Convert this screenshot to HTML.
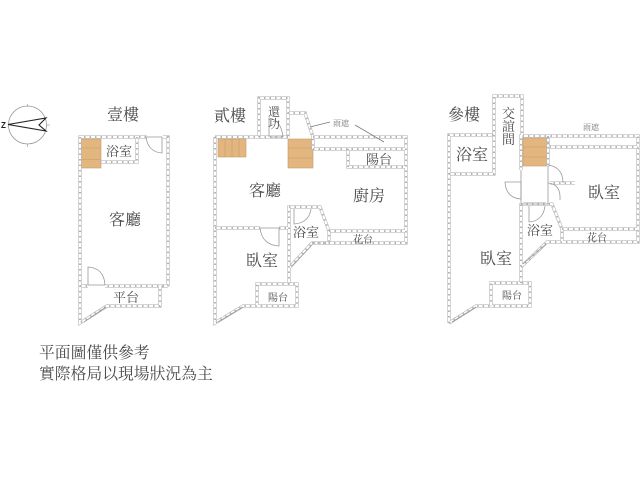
<!DOCTYPE html>
<html><head><meta charset="utf-8">
<style>
html,body{margin:0;padding:0;background:#fff}
svg{display:block}
text{font-family:"Liberation Serif","Noto Serif CJK SC",serif;fill:#4a4a4a}
</style></head><body>
<svg width="640" height="480" viewBox="0 0 640 480" xmlns="http://www.w3.org/2000/svg">
<defs>
<g id="w" fill="none" stroke-linejoin="miter">
<path d="M168 137H80V323L107 306H160V287L168 285V137Z"/>
<path d="M80 286H168M137 137V162H100"/>
<path d="M215 137H288M215 137V323L243 306H297V284H257V306M289 284V207H320L329 231V243H312L289 268"/>
<path d="M215 228H260M279 228H289"/>
<path d="M312 243H406V137H313M313 149H406M348 149V167H405M329 231H405"/>
<path d="M259 137V98H288V137M288 113H305L313 137V149"/>
<path d="M449 323V135H494V96H522V135M449 174H494V135"/>
<path d="M449 323L476 306H530V283H491V306M521 283V136H548"/>
<path d="M521 204H552L562 229V242M521 267L547 242H638V136H548V147H638M562 229H638M548 136V166M548 183H575"/>
</g>
</defs>
<!-- stairs -->
<g fill="#e3b67f" stroke="#c29a68" stroke-width=".6">
<rect x="81" y="139" width="20" height="29"/>
<path d="M81 148H101M81 159.500H101" fill="none"/>
<rect x="218" y="139" width="28" height="18"/>
<path d="M225 139V157M232 139V157M239 139V157" fill="none"/>
<rect x="288" y="139" width="25" height="29"/>
<path d="M288 148H313M288 158H313" fill="none"/>
<rect x="523" y="138" width="24" height="28"/>
<path d="M523 147H547M523 157H547" fill="none"/>
</g>
<!-- walls -->
<use href="#w" stroke="#a8a8a8" stroke-width="3.200"/>
<use href="#w" stroke="#fff" stroke-width="2.200"/>
<use href="#w" stroke="#b5b5b5" stroke-width="2" stroke-dasharray="1.500 4"/>
<!-- door openings -->
<g stroke="#fff" stroke-width="4" fill="none">
<path d="M147 137H163M88 286H105M260 228H279M521 170V203M548 170V203"/>
</g>
<g fill="none" stroke="#999" stroke-width=".8">
<path d="M146 137H162V153Q148 152 146 137"/>
<path d="M88 267V285H105Q104 268 88 267Z"/>
<path d="M260 228H279V246Q262 245 260 228"/>
<path d="M294 209V224Q309 223 311 209"/>
<path d="M269 137V118Q281 120 283 137M270 137H283"/>
<path d="M521 182H505Q506 198 521 199Z"/>
<path d="M548 165Q563 167 563 183M548 183Q561 184 560 200M548 166V204M521 170V204"/>
<path d="M529 206V222Q543 221 545 206"/>
<path d="M522 204H548"/>
<path d="M84 322L106 307M218 322L243 307M292 266L312 245M523 264L546 244M452 322L476 307"/>
</g>
<!-- rain-shelter leaders -->
<path d="M310 127L330 122M355 125L384 142" stroke="#777" stroke-width=".8" fill="none"/>
<!-- compass -->
<g fill="none">
<circle cx="27.500" cy="125" r="19" stroke="#999" stroke-width=".8"/>
<path d="M27.500 104V107M27.500 144V147M46 125H50" stroke="#aaa" stroke-width=".8"/>
<path d="M8 124.500L46 118L39 125L46 131Z" stroke="#222" stroke-width="1.100"/>
</g>
<text x="1" y="128" font-size="8" style="font-family:'Liberation Sans',sans-serif;font-weight:bold;fill:#222">Z</text>
<!-- labels -->
<g font-size="16">
<text x="107" y="120">壹樓</text>
<text x="214" y="121">貳樓</text>
<text x="448" y="120">參樓</text>
<text x="109" y="225">客廳</text>
<text x="249" y="196">客廳</text>
<text x="353" y="201">廚房</text>
<text x="246" y="266">臥室</text>
<text x="456" y="160">浴室</text>
<text x="588" y="198">臥室</text>
<text x="480" y="264">臥室</text>
</g>
<g font-size="13">
<text x="106" y="156">浴室</text>
<text x="293" y="237">浴室</text>
<text x="527" y="235">浴室</text>
<text x="366" y="164">陽台</text>
<text x="113" y="302">平台</text>
</g>
<g font-size="10">
<text x="353" y="243">花台</text>
<text x="587" y="241">花台</text>
<text x="268" y="301">陽台</text>
<text x="502" y="299">陽台</text>
</g>
<g font-size="8" style="opacity:.8">
<text x="333" y="126">雨遮</text>
<text x="583" y="130">雨遮</text>
</g>
<g font-size="12">
<text x="268" y="116">還</text>
<text x="268" y="128">功</text>
</g>
<g font-size="13">
<text x="502" y="118">交</text>
<text x="502" y="131">誼</text>
<text x="502" y="144">間</text>
</g>
<g font-size="15.800">
<text x="39" y="358">平面圖僅供參考</text>
<text x="39" y="379">實際格局以現場狀況為主</text>
</g>
</svg>
</body></html>
